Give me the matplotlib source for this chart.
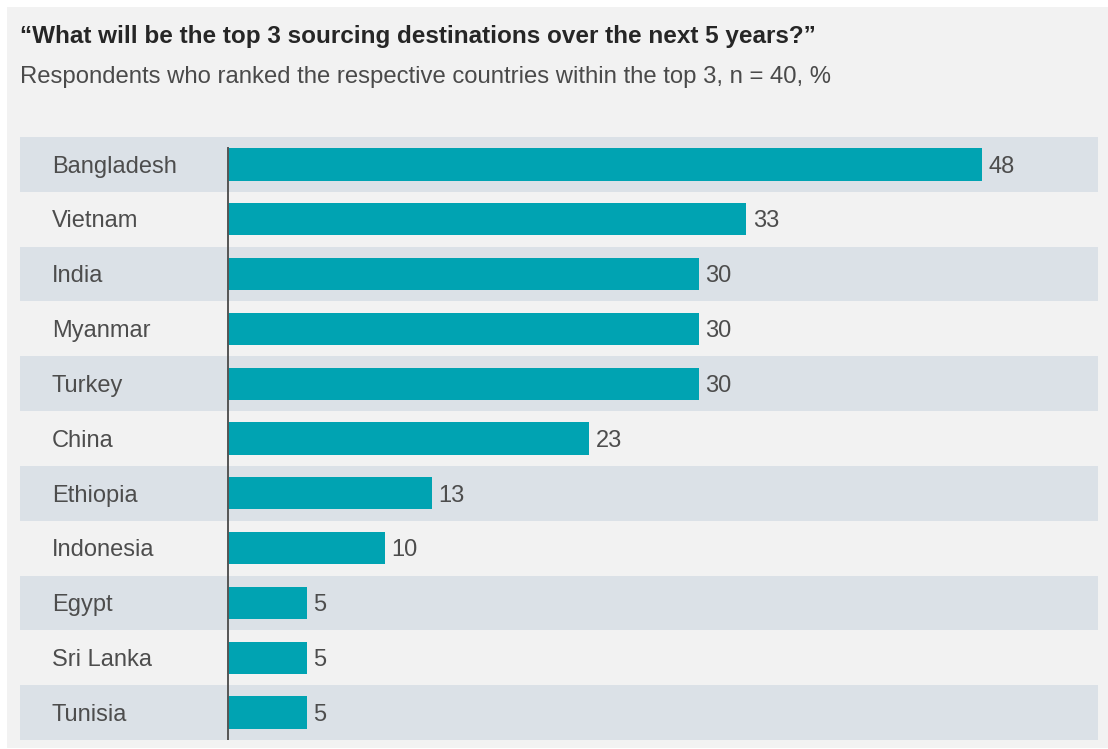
import matplotlib.pyplot as plt
from matplotlib.patches import Rectangle
from matplotlib.transforms import blended_transform_factory

countries = ['Bangladesh', 'Vietnam', 'India', 'Myanmar', 'Turkey', 'China',
             'Ethiopia', 'Indonesia', 'Egypt', 'Sri Lanka', 'Tunisia']
shares = [48, 33, 30, 30, 30, 23, 13, 10, 5, 5, 5]

title = '\u201cWhat will be the top 3 sourcing destinations over the next 5 years?\u201d'
subtitle = 'Respondents who ranked the respective countries within the top 3, n = 40, %'

plt.rcParams['font.family'] = ['Liberation Sans', 'DejaVu Sans']

W, H = 1108, 749
fig = plt.figure(figsize=(W / 100, H / 100), dpi=100)
fig.patch.set_facecolor('white')

# light grey panel behind everything
fig.patches.append(Rectangle((7 / W, 1 - 748 / H), 1 - 7 / W, (748 - 7) / H,
                             transform=fig.transFigure, facecolor='#f2f2f2',
                             edgecolor='none', zorder=-5))

fig.text(20 / W, 1 - 37 / H, title, fontsize=17.5, fontweight='bold',
         color='#262626', va='center', ha='left')
fig.text(20 / W, 1 - 77 / H, subtitle, fontsize=17.2, color='#4a4a4a',
         va='center', ha='left')

left, right, top, bottom = 20, 1098, 137, 740
ax = fig.add_axes([left / W, 1 - bottom / H, (right - left) / W, (bottom - top) / H])
ax.set_facecolor('none')
ax.set_zorder(2)

px_per_unit = (982 - 228) / 48
ax.set_xlim(-(228 - left) / px_per_unit, (right - 228) / px_per_unit)
ax.set_ylim(len(countries) - 0.5, -0.5)

# alternating row bands
for i in range(0, len(countries), 2):
    ax.axhspan(i - 0.5, i + 0.5, color='#dbe1e7', lw=0, zorder=0)

y = list(range(len(countries)))
ax.barh(y, shares, height=0.59, color='#00a3b2', zorder=2)

ax.plot([0, 0], [-0.3, len(countries) - 0.5], color='#555555', lw=1.4, zorder=3)

trans = blended_transform_factory(ax.transAxes, ax.transData)
for i, (name, val) in enumerate(zip(countries, shares)):
    ax.text(32 / (right - left), i + 0.04, name, transform=trans, fontsize=17,
            color='#4d4d4d', va='center', ha='left')
    ax.text(val + 0.4, i + 0.04, str(val), fontsize=17, color='#4d4d4d',
            va='center', ha='left')

ax.axis('off')

fig.savefig('out.png', dpi=100)
